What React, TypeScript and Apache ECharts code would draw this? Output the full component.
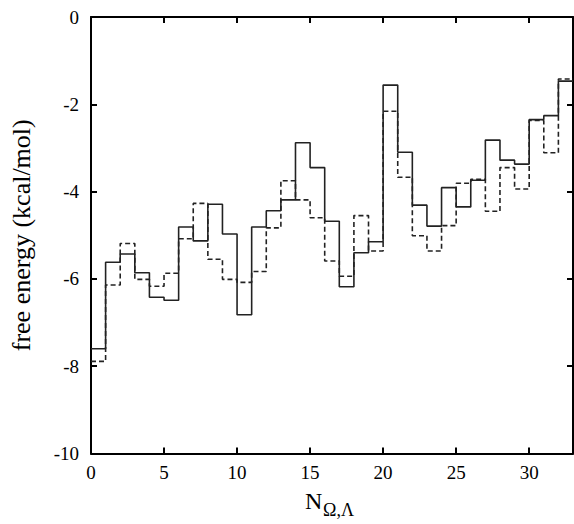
import React, { useEffect, useRef } from "react";
import * as echarts from "echarts";

const bins: number[] = Array.from({ length: 34 }, (_, i) => i);

const solidValues = [
  -7.6, -5.62, -5.43, -5.86, -6.42, -6.49, -4.81, -5.13, -4.29, -4.97, -6.82,
  -4.81, -4.44, -4.19, -2.88, -3.45, -4.68, -6.18, -5.4, -5.15, -1.56, -3.1,
  -4.31, -4.79, -3.91, -4.35, -3.74, -2.82, -3.28, -3.37, -2.35, -2.26, -1.47,
];

const dashedValues = [
  -7.89, -6.14, -5.19, -6.01, -6.17, -5.87, -5.08, -4.27, -5.55, -6.01, -6.08,
  -5.83, -4.83, -3.75, -4.19, -4.6, -5.59, -5.94, -4.55, -5.36, -2.16, -3.67,
  -5.01, -5.36, -4.78, -3.81, -3.72, -4.45, -3.45, -3.94, -2.37, -3.11, -1.42,
];

const xTicks = [0, 5, 10, 15, 20, 25, 30];
const yTicks = [0, -2, -4, -6, -8, -10];

function stepData(vals: number[]) {
  const pts = vals.map((v, i) => [bins[i], v]);
  pts.push([bins[vals.length], vals[vals.length - 1]]);
  return pts;
}

const FONT = "'Liberation Serif', 'Times New Roman', serif";

export default function App() {
  const ref = useRef<HTMLDivElement>(null);
  useEffect(() => {
    document.body.style.margin = "0";
    if (!ref.current) return;
    const chart = echarts.init(ref.current, undefined, { renderer: "svg" });
    const axisCommon = {
      type: "value" as const,
      axisLine: { show: true, onZero: false, lineStyle: { color: "#000", width: 2 } },
      axisTick: { show: true, inside: true, length: 6, lineStyle: { color: "#000", width: 2 } },
      splitLine: { show: false },
    };
    chart.setOption({
      animation: false,
      backgroundColor: "#fff",
      grid: { left: 87, right: 1, top: 17, bottom: 70.5 },
      xAxis: [
        {
          ...axisCommon,
          position: "bottom",
          min: 0,
          max: 33,
          interval: 5,
          axisLabel: {
            show: true,
            margin: 9,
            fontFamily: FONT,
            fontSize: 19,
            color: "#000",
            showMaxLabel: false,
            formatter: (v: number) => (xTicks.includes(v) ? String(v) : ""),
          },
        },
        {
          ...axisCommon,
          position: "top",
          min: 0,
          max: 33,
          interval: 5,
          axisLabel: { show: false },
        },
      ],
      yAxis: [
        {
          ...axisCommon,
          position: "left",
          min: -10,
          max: 0,
          interval: 2,
          name: "free energy (kcal/mol)",
          nameLocation: "middle",
          nameGap: 57,
          nameRotate: 90,
          nameTextStyle: { fontFamily: FONT, fontSize: 26, color: "#000" },
          axisLabel: {
            show: true,
            margin: 12,
            fontFamily: FONT,
            fontSize: 19,
            color: "#000",
            formatter: (v: number) => (yTicks.includes(v) ? String(v) : ""),
          },
        },
        {
          ...axisCommon,
          position: "right",
          min: -10,
          max: 0,
          interval: 2,
          axisLabel: { show: false },
        },
      ],
      graphic: [
        {
          type: "text",
          x: 305,
          y: 501,
          style: { text: "N", fontFamily: FONT, fontSize: 24, fill: "#000", verticalAlign: "middle", align: "left" },
        },
        {
          type: "text",
          x: 323,
          y: 509.5,
          style: { text: "Ω,Λ", fontFamily: FONT, fontSize: 18, fill: "#000", verticalAlign: "middle", align: "left" },
        },
      ],
      series: [
        {
          type: "line",
          step: "end",
          xAxisIndex: 0,
          yAxisIndex: 0,
          data: stepData(solidValues),
          showSymbol: false,
          symbol: "none",
          lineStyle: { color: "#222", width: 1.6, type: "solid" },
          z: 3,
        },
        {
          type: "line",
          step: "end",
          xAxisIndex: 0,
          yAxisIndex: 0,
          data: stepData(dashedValues),
          showSymbol: false,
          symbol: "none",
          lineStyle: { color: "#222", width: 1.6, type: [5, 3] },
          z: 2,
        },
      ],
    });
    return () => chart.dispose();
  }, []);
  return <div ref={ref} style={{ width: 574, height: 524 }} />;
}
